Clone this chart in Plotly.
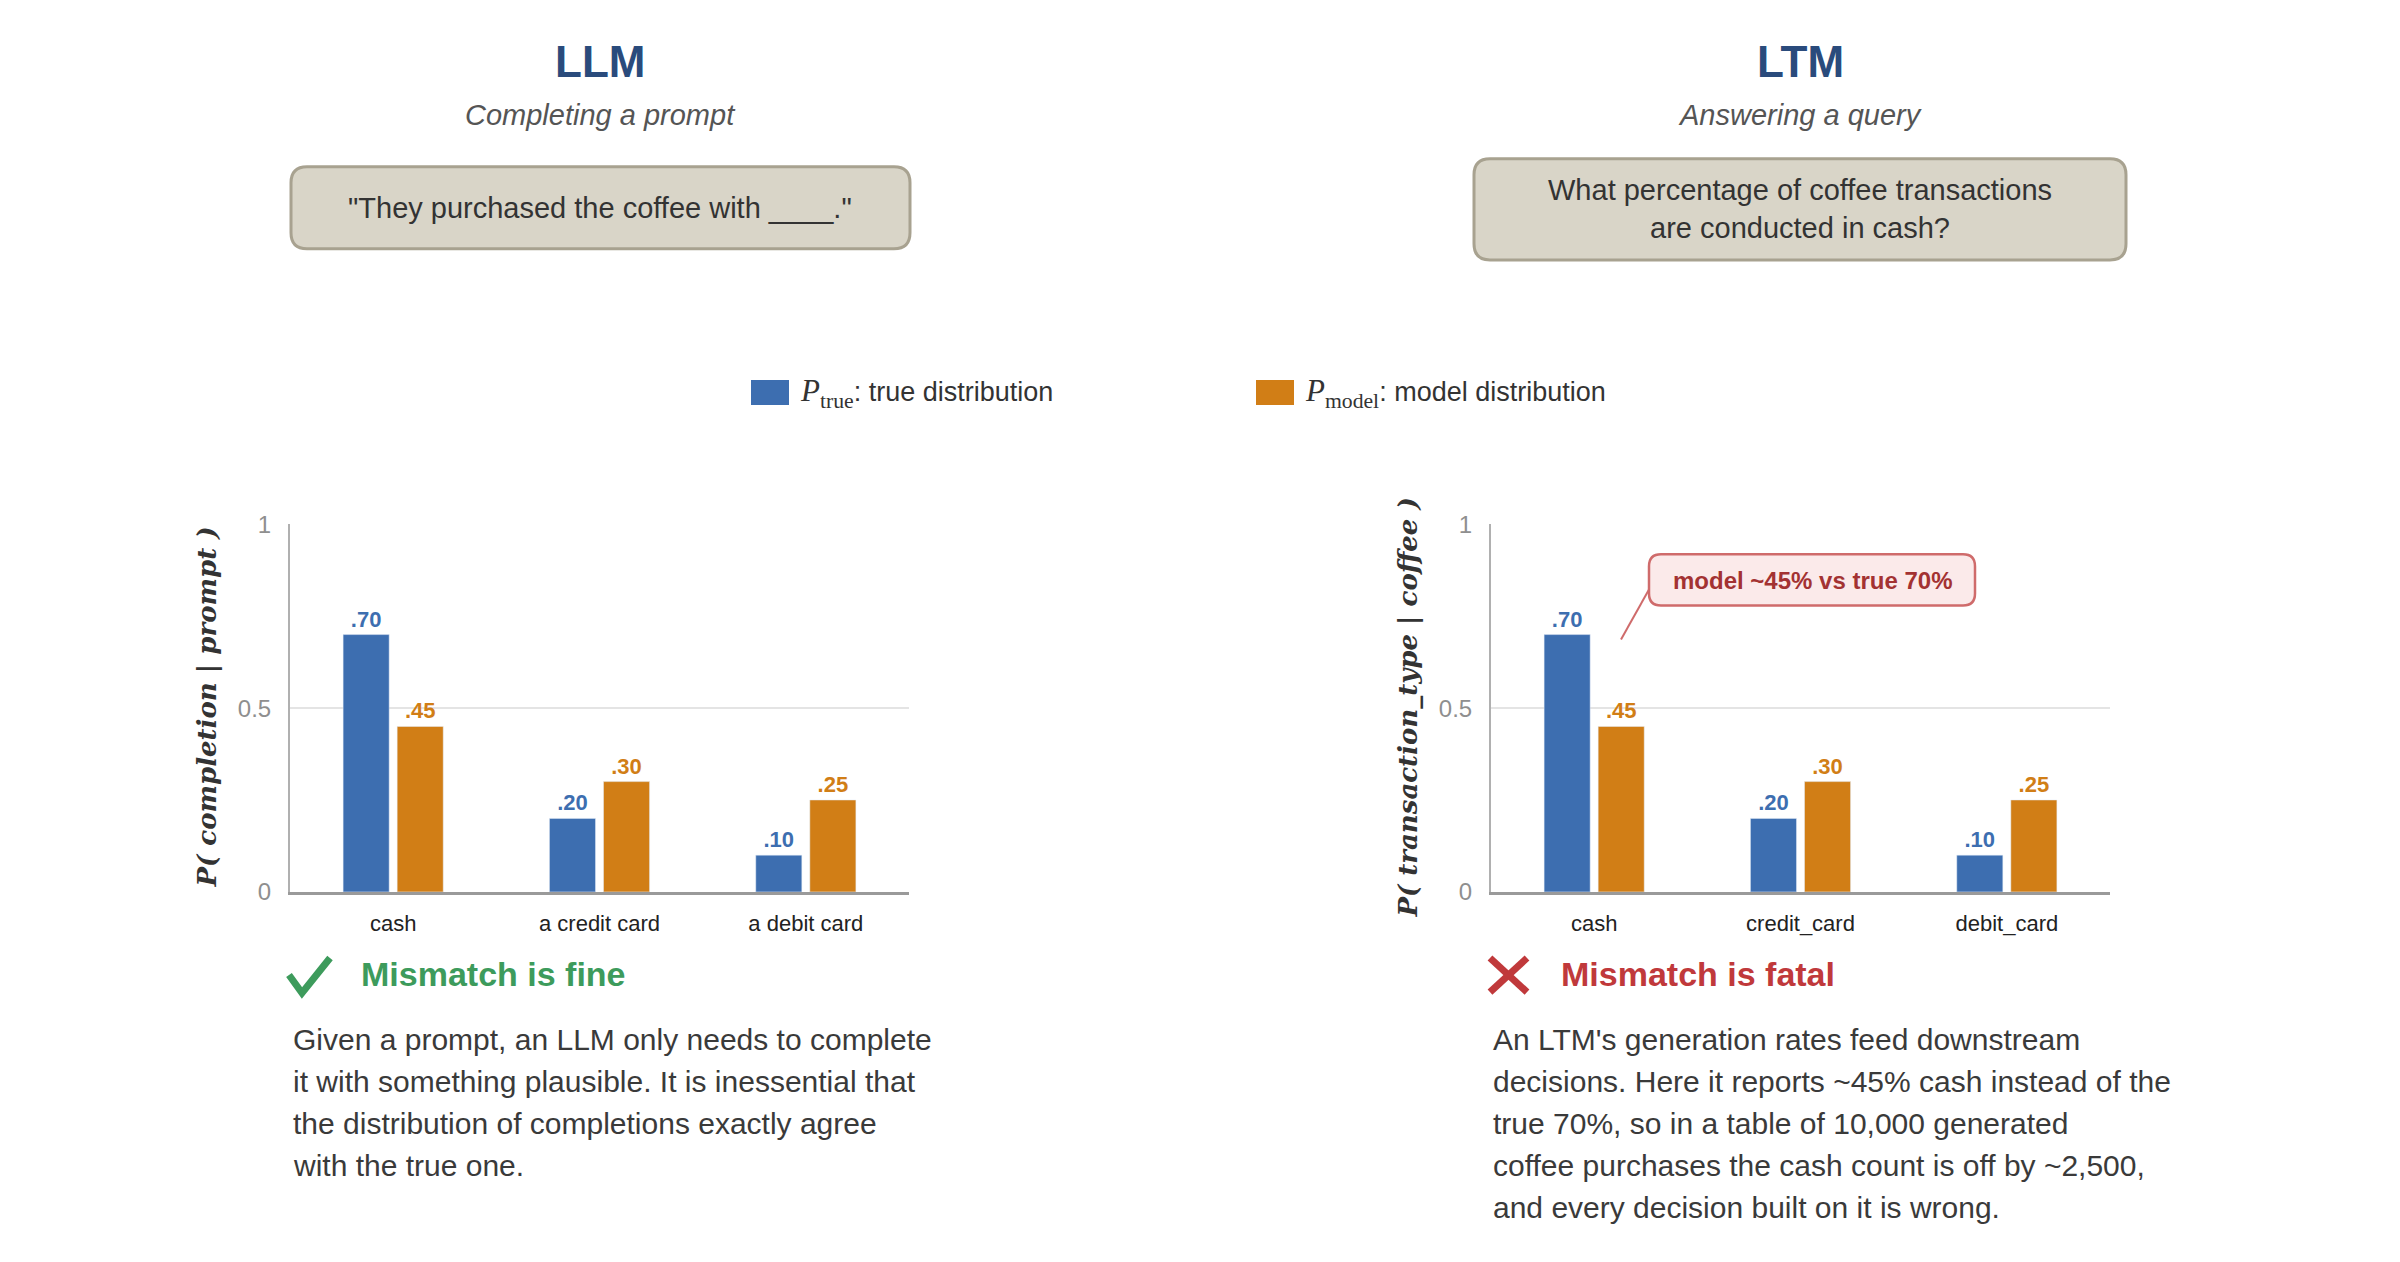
import plotly.graph_objects as go

# data
llm_categories = ["cash", "a credit card", "a debit card"]
ltm_categories = ["cash", "credit_card", "debit_card"]
p_true = [0.70, 0.20, 0.10]
p_model = [0.45, 0.30, 0.25]
y_ticks = [0, 0.5, 1]
y_tick_labels = ["0", "0.5", "1"]

panel_titles = ["LLM", "LTM"]
panel_subtitles = ["Completing a prompt", "Answering a query"]
prompts = ['"They purchased the coffee with ____."',
           "What percentage of coffee transactions<br>are conducted in cash?"]
y_titles = ["P( completion | prompt )", "P( transaction_type | coffee )"]
verdicts = ["Mismatch is fine", "Mismatch is fatal"]
llm_lines = ["Given a prompt, an LLM only needs to complete",
             "it with something plausible. It is inessential that",
             "the distribution of completions exactly agree",
             "with the true one."]
ltm_lines = ["An LTM's generation rates feed downstream",
             "decisions. Here it reports ~45% cash instead of the",
             "true 70%, so in a table of 10,000 generated",
             "coffee purchases the cash count is off by ~2,500,",
             "and every decision built on it is wrong."]
legend_subs = ["true", "model"]
legend_texts = ["true distribution", "model distribution"]
callout_text = "model ~45% vs true 70%"

W, H = 2400, 1262
BLUE = "#3d6eb0"
ORANGE = "#d17e16"
NAVY = "#2a4b7c"
GREEN = "#3d9b5c"
RED = "#c0393b"
FONT = "Liberation Sans, Arial, sans-serif"


# layout positions below are in reference pixels; map them to paper fractions
def px(x):
    return (x - 8) / W


def py(y):
    return 1 - (1.0235 * y - 22) / H


def rounded(x0, y0, x1, y1, r):
    pts = [
        f"M{px(x0 + r)},{py(y0)}", f"L{px(x1 - r)},{py(y0)}",
        f"Q{px(x1)},{py(y0)} {px(x1)},{py(y0 + r)}", f"L{px(x1)},{py(y1 - r)}",
        f"Q{px(x1)},{py(y1)} {px(x1 - r)},{py(y1)}", f"L{px(x0 + r)},{py(y1)}",
        f"Q{px(x0)},{py(y1)} {px(x0)},{py(y1 - r)}", f"L{px(x0)},{py(y0 + r)}",
        f"Q{px(x0)},{py(y0)} {px(x0 + r)},{py(y0)}", "Z"]
    return " ".join(pts)


def polyline(points):
    return "M" + " L".join(f"{px(x)},{py(y)}" for x, y in points)


def fmt(v):
    return f"{v:.2f}".lstrip("0")


fig = go.Figure()
for cats, xa, ya in [(llm_categories, "x", "y"), (ltm_categories, "x2", "y2")]:
    fig.add_trace(go.Bar(x=cats, y=p_true, name="P_true", marker_color=BLUE,
                         text=[fmt(v) for v in p_true], textposition="outside",
                         textfont=dict(color=BLUE, size=22, weight="bold", family=FONT),
                         cliponaxis=False, xaxis=xa, yaxis=ya, showlegend=False))
    fig.add_trace(go.Bar(x=cats, y=p_model, name="P_model", marker_color=ORANGE,
                         text=[fmt(v) for v in p_model], textposition="outside",
                         textfont=dict(color=ORANGE, size=22, weight="bold", family=FONT),
                         cliponaxis=False, xaxis=xa, yaxis=ya, showlegend=False))

ydom = [py(890), py(523)]
xdoms = [[px(290), px(909)], [px(1491), px(2110)]]
xstyle = dict(showline=True, linecolor="#9a9a9a", linewidth=3, ticks="",
              tickfont=dict(size=22, color="#222", family=FONT), ticklabelstandoff=10,
              fixedrange=True)
ystyle = dict(range=[0, 1], tickvals=y_ticks, ticktext=y_tick_labels, showgrid=True,
              gridcolor="#e4e4e4", gridwidth=2, showline=True, linecolor="#b0b0b0",
              linewidth=2, zeroline=False, ticks="", ticklabelstandoff=12,
              tickfont=dict(size=24, color="#8f8f8f", family=FONT), fixedrange=True)

fig.update_layout(
    width=W, height=H, margin=dict(l=0, r=0, t=0, b=0),
    paper_bgcolor="white", plot_bgcolor="white",
    barmode="group", bargap=0.476, bargroupgap=0.148,
    font=dict(family=FONT, color="#333"),
    showlegend=False,
    xaxis=dict(domain=xdoms[0], anchor="y", **xstyle),
    yaxis=dict(domain=ydom, anchor="x", **ystyle),
    xaxis2=dict(domain=xdoms[1], anchor="y2", **xstyle),
    yaxis2=dict(domain=ydom, anchor="x2", **ystyle),
)

shapes = []
ann = []
centers = [600, 1800]
boxes = [(291, 166, 910, 248), (1474, 158, 2126, 259)]
for i in range(2):
    c = centers[i]
    ann.append(dict(x=px(c), y=py(61), text=f"<b>{panel_titles[i]}</b>",
                    font=dict(size=44, color=NAVY)))
    ann.append(dict(x=px(c), y=py(114), text=f"<i>{panel_subtitles[i]}</i>",
                    font=dict(size=29, color="#555")))
    shapes.append(dict(type="path", path=rounded(*boxes[i], 16), xref="paper", yref="paper",
                       fillcolor="#d9d5c8", line=dict(color="#a8a290", width=3), layer="below"))
    ann.append(dict(x=px(c), y=py((boxes[i][1] + boxes[i][3]) / 2), text=prompts[i],
                    font=dict(size=29, color="#333")))
    axis_left = [290, 1491][i]
    ann.append(dict(x=px(axis_left - 83), y=py(706), text=y_titles[i], textangle=-90,
                    font=dict(size=26, color="#333", family="DejaVu Serif",
                              weight="bold", style="italic")))

# legend
swatch_x = [751, 1256]
for i, col in enumerate([BLUE, ORANGE]):
    shapes.append(dict(type="rect", xref="paper", yref="paper",
                       x0=px(swatch_x[i]), x1=px(swatch_x[i] + 38), y0=py(404), y1=py(379),
                       fillcolor=col, line=dict(width=0)))
    label = ("<span style=\"font-family:'Liberation Serif';font-size:31px\"><i>P</i>"
             f"<sub>{legend_subs[i]}</sub></span>: {legend_texts[i]}")
    ann.append(dict(x=px(swatch_x[i] + 47), y=py(392), xanchor="left", text=label,
                    font=dict(size=27, color="#333")))

# verdict icons drawn as strokes
shapes.append(dict(type="path", xref="paper", yref="paper",
                   path=polyline([(289, 973), (302, 991), (330, 956)]),
                   line=dict(color=GREEN, width=7)))
shapes.append(dict(type="path", xref="paper", yref="paper",
                   path=polyline([(1490, 956), (1527, 990)]), line=dict(color=RED, width=7)))
shapes.append(dict(type="path", xref="paper", yref="paper",
                   path=polyline([(1527, 956), (1490, 990)]), line=dict(color=RED, width=7)))
ann.append(dict(x=px(359), y=py(972), xanchor="left", text=f"<b>{verdicts[0]}</b>",
                font=dict(size=34, color=GREEN)))
ann.append(dict(x=px(1559), y=py(972), xanchor="left", text=f"<b>{verdicts[1]}</b>",
                font=dict(size=34, color=RED)))

for lines, x0 in [(llm_lines, 291), (ltm_lines, 1491)]:
    for j, line in enumerate(lines):
        ann.append(dict(x=px(x0), y=py(1037 + j * 42), xanchor="left", text=line,
                        font=dict(size=30, color="#3a3a3a")))

# callout
shapes.append(dict(type="path", path=rounded(1649, 553, 1975, 604, 12), xref="paper", yref="paper",
                   fillcolor="#fbeaea", line=dict(color="#cf6b6b", width=2.5)))
shapes.append(dict(type="line", xref="paper", yref="paper", x0=px(1649), y0=py(588),
                   x1=px(1621), y1=py(638), line=dict(color="#cf6b6b", width=2)))
ann.append(dict(x=px(1812), y=py(579), text=f"<b>{callout_text}</b>",
                font=dict(size=24, color="#a33232")))

for a in ann:
    a.setdefault("xref", "paper")
    a.setdefault("yref", "paper")
    a.setdefault("showarrow", False)
    a.setdefault("xanchor", "center")
    a.setdefault("yanchor", "middle")

fig.update_layout(shapes=shapes, annotations=ann)
fig.write_html("out.html")
